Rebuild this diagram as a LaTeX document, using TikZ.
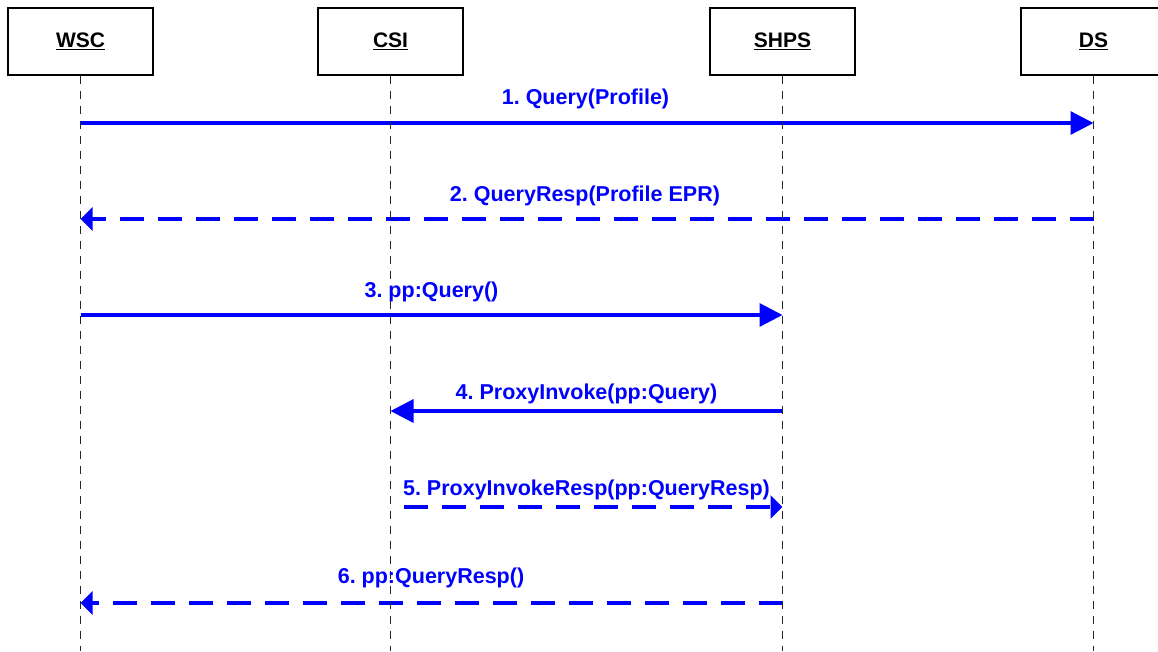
\documentclass[tikz,border=0pt]{standalone}
\usepackage{fontspec}
\setmainfont{Liberation Sans}
\usetikzlibrary{arrows.meta}
\frenchspacing
\begin{document}
\begin{tikzpicture}[x=1pt,y=-1pt,
  actor/.style={draw=black, line width=1.3pt, minimum width=145pt, minimum height=67pt,
    inner sep=0pt, font=\fontsize{21}{25}\selectfont\bfseries},
  life/.style={black!85, line width=1.3pt, dash pattern=on 8pt off 7pt},
  msg/.style={blue, line width=3.2pt, -{Triangle[length=23pt,width=23pt]}},
  reply/.style={blue, line width=3.2pt, dash pattern=on 24pt off 14pt,
    -{Triangle[length=12pt,width=23pt]}},
  lbl/.style={text=blue, font=\fontsize{21.5}{25}\selectfont\bfseries\frenchspacing,
    anchor=base, inner sep=0pt}]

\useasboundingbox (0,0) rectangle (1158,651);
\clip (0,0) rectangle (1158,651);

% participants
\node[actor] (wsc)  at (80.5,41.5)   {\underline{WSC}};
\node[actor] (csi)  at (390.5,41.5)  {\underline{CSI}};
\node[actor] (shps) at (782.5,41.5)  {\underline{SHPS}};
\node[actor] (ds)   at (1093.5,41.5) {\underline{DS}};

% message rows
\coordinate (bottom) at (0,651);
\coordinate (r1) at (0,123);
\coordinate (r2) at (0,219);
\coordinate (r3) at (0,315);
\coordinate (r4) at (0,411);
\coordinate (r5) at (0,507);
\coordinate (r6) at (0,603);
\coordinate (s5) at (404,507);

% messages
\draw[msg]   (wsc.south |- r1)  -- (ds.south |- r1);
\draw[reply] (ds.south |- r2)   -- (wsc.south |- r2);
\draw[msg]   (wsc.south |- r3)  -- (shps.south |- r3);
\draw[msg]   (shps.south |- r4) -- (csi.south |- r4);
\draw[reply] (s5)               -- (shps.south |- r5);
\draw[reply] (shps.south |- r6) -- (wsc.south |- r6);

% lifelines
\draw[life] (wsc.south)  -- (wsc.south |- bottom);
\draw[life] (csi.south)  -- (csi.south |- bottom);
\draw[life] (shps.south) -- (shps.south |- bottom);
\draw[life] (ds.south)   -- (ds.south |- bottom);

% message labels
\node[lbl] (l1) at (585.5,104) {1. Query(Profile)};
\node[lbl] (l2) at (585,201)   {2. QueryResp(Profile EPR)};
\node[lbl] (l3) at (431.5,297) {3. pp:Query()};
\node[lbl] (l4) at (586.5,399) {4. ProxyInvoke(pp:Query)};
\node[lbl] (l5) at (586.5,495) {5. ProxyInvokeResp(pp:QueryResp)};
\node[lbl] (l6) at (431,583)   {6. pp:QueryResp()};
\end{tikzpicture}
\end{document}
